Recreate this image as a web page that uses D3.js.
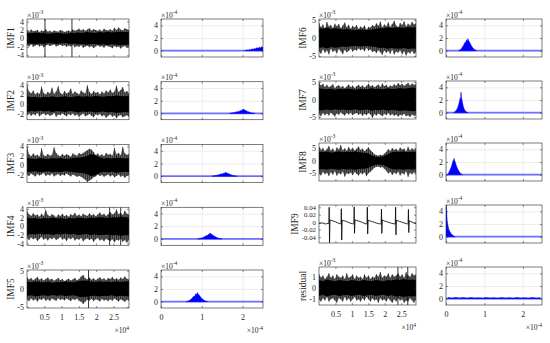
<!DOCTYPE html>
<html>
<head>
<meta charset="utf-8">
<script src="https://cdn.jsdelivr.net/npm/d3@7"></script>
<style>
body { margin: 0; background: #fff; }
text { font-family: "Liberation Serif", "Times New Roman", serif; fill: #262626; }
</style>
</head>
<body>
<svg id="fig" width="550" height="343"></svg>
<script>
// time axis in x10^4 samples, amplitudes in x10^-3 (IMF9 raw)
var xMax = 2.95;
var timeXTicks = [0.5, 1, 1.5, 2, 2.5];
var specXTicks = [0, 1, 2];
var specYTicks = [0, 2, 4];
var specXMax = 2.5;
var specYLim = [-1, 5];
var serif = "Liberation Serif, Times New Roman, serif";

// outer envelopes (spiky hairs) of the dense signals, read across the x axis
var imf1Hi = [1.9,1.6,2.1,1.7,1.8,2.0,1.5,1.9,1.7,2.2, 1.6,1.8,1.5,1.9,1.7,1.6,2.0,1.8,1.5,1.7, 1.9,1.6,2.1,1.8,2.0,2.3,1.9,2.2,1.8,2.1, 2.4,1.9,2.2,2.0,1.8,2.1,1.7,2.3,2.0,1.9, 2.2,1.8,2.5,2.0,2.6,2.1,1.9,2.4,2.2,2.0];
var imf1Lo = [-1.6,-1.9,-1.4,-2.0,-1.7,-1.5,-1.9,-1.6,-2.1,-1.7, -1.5,-1.8,-1.6,-1.4,-1.9,-1.7,-1.5,-1.8,-1.6,-2.0, -1.7,-1.9,-1.5,-2.1,-1.8,-2.0,-1.6,-2.2,-1.9,-1.7, -2.1,-1.8,-2.3,-1.9,-1.6,-2.0,-1.8,-2.2,-1.7,-1.9, -2.0,-2.3,-1.8,-2.1,-1.9,-2.4,-2.0,-1.8,-2.2,-2.0];
// half-width of the solid black core
var imf1Core = [1.3,1.2,1.4,1.2,1.3,1.1,1.2,1.3,1.2,1.1,1.3,1.2,1.4,1.3,1.5,1.4,1.3,1.5,1.4,1.6,1.4,1.5,1.6,1.5,1.5];
var imf1Spikes = [0.52, 1.3];

var imf2Hi = [3.8,2.6,2.2,2.8,2.0,2.4,2.1,3.6,2.3,2.0, 2.5,2.2,3.4,2.1,2.6,3.7,2.3,2.0,2.7,2.2, 2.4,3.2,2.1,2.6,2.3,2.0,2.8,2.4,2.2,3.9, 2.5,2.1,2.7,2.3,2.5,2.0,2.6,2.2,2.8,2.4, 3.0,2.3,2.6,3.8,2.5,2.9,3.5,2.4,2.7,2.2];
var imf2Lo = [-2.2,-1.9,-2.4,-2.0,-2.3,-1.8,-2.5,-2.1,-1.9,-2.3, -2.0,-2.4,-2.2,-1.8,-2.6,-2.1,-2.3,-1.9,-2.2,-2.5, -2.0,-2.3,-1.9,-2.4,-2.1,-2.6,-2.2,-1.9,-2.5,-2.3, -2.0,-2.4,-2.7,-2.1,-2.3,-2.0,-2.5,-2.2,-2.8,-2.4, -2.1,-2.6,-2.3,-2.9,-2.4,-2.2,-2.7,-2.5,-2.3,-2.6];
var imf2Core = [1.6,1.4,1.5,1.3,1.5,1.4,1.6,1.4,1.5,1.6,1.4,1.5,1.7,1.5,1.6,1.5,1.7,1.6,1.5,1.7,1.6,1.8,1.7,1.6,1.7];

var imf3Hi = [3.9,2.3,1.9,2.5,2.0,2.2,1.8,3.6,2.1,1.9, 2.4,2.0,2.2,3.8,2.6,2.1,1.9,2.4,2.0,2.3, 2.1,1.8,2.5,2.2,2.0,2.6,2.3,2.6,2.9,3.2, 3.5,3.3,2.8,2.1,2.5,2.0,2.3,1.9,2.6,2.2, 2.4,2.0,3.7,2.3,2.6,2.1,3.9,2.5,2.2,2.4];
var imf3Lo = [-2.0,-2.3,-1.8,-2.1,-2.4,-1.9,-2.2,-2.0,-1.7,-2.3, -2.0,-2.2,-1.8,-2.4,-2.1,-1.9,-2.3,-2.0,-2.2,-1.8, -2.1,-2.4,-2.0,-2.2,-2.5,-2.3,-2.5,-2.8,-3.1,-3.6, -3.3,-3.0,-2.6,-2.4,-2.0,-2.3,-2.1,-2.5,-2.2,-2.0, -2.4,-2.1,-2.6,-2.3,-2.0,-2.5,-2.2,-2.7,-2.3,-2.1];
var imf3Core = [1.5,1.4,1.3,1.5,1.4,1.3,1.5,1.4,1.5,1.3,1.4,1.5,1.6,1.7,1.9,2.3,2.2,1.7,1.4,1.5,1.4,1.6,1.5,1.4,1.5];

var imf4Hi = [3.5,2.8,2.4,3.0,2.5,2.7,2.2,2.9,2.4,3.8, 2.6,2.3,2.8,2.5,2.1,2.7,2.4,2.9,2.3,2.6, 2.2,2.8,2.5,3.1,2.4,2.7,2.3,2.9,2.6,2.4, 3.0,2.5,2.8,2.3,2.7,3.2,2.6,2.9,2.4,2.8, 3.3,2.7,3.0,3.9,2.8,3.1,2.6,3.6,2.9,2.7];
var imf4Lo = [-2.8,-3.2,-2.6,-3.0,-2.7,-3.4,-2.9,-2.5,-3.1,-2.8, -3.3,-2.7,-3.0,-2.6,-3.2,-2.9,-2.5,-3.1,-2.8,-3.4, -2.7,-3.0,-2.6,-3.3,-2.9,-3.1,-2.7,-3.5,-3.0,-2.8, -3.2,-2.9,-3.6,-3.0,-2.7,-3.3,-3.0,-3.5,-2.9,-3.2, -3.4,-3.0,-3.7,-3.1,-3.3,-2.9,-3.6,-3.2,-3.8,-3.1];
var imf4Core = [2.0,1.8,1.9,1.7,1.9,1.8,2.0,1.8,1.9,1.7,1.9,1.8,2.0,1.9,1.8,2.0,1.9,2.1,2.0,1.9,2.1,2.0,2.2,2.1,2.0];
var imf4Spikes = [2.39, 2.71];

var imf5Hi = [3.2,2.6,3.0,2.4,2.8,3.3,2.5,2.9,2.3,2.7, 3.1,2.5,2.8,2.2,2.6,3.0,2.4,2.7,2.1,2.5, 2.8,2.3,2.6,3.0,2.4,2.7,3.4,3.8,2.9,2.6, 3.1,2.5,2.9,2.4,2.8,3.2,2.6,2.9,2.4,3.0, 2.7,3.3,2.6,2.9,2.5,3.1,2.7,3.4,2.8,2.6];
var imf5Lo = [-3.0,-3.4,-2.7,-3.2,-2.9,-3.5,-2.8,-3.1,-2.6,-3.3, -2.9,-3.4,-2.7,-3.0,-3.3,-2.6,-3.1,-2.8,-3.2,-2.7, -3.0,-3.4,-2.8,-3.1,-2.7,-3.3,-3.6,-4.2,-3.5,-3.0, -3.2,-2.8,-3.4,-2.9,-3.1,-3.5,-2.8,-3.2,-3.0,-3.4, -2.9,-3.3,-2.7,-3.1,-3.5,-2.9,-3.2,-3.6,-3.0,-3.3];
var imf5Core = [2.0,1.8,2.1,1.9,1.8,2.0,1.7,1.9,1.8,2.0,1.9,1.8,2.1,2.3,2.2,2.0,1.9,2.1,1.9,2.0,1.8,2.1,1.9,2.0,2.1];
var imf5Spikes = [1.78];

var imf6Hi = [4.2,3.0,3.8,2.6,4.5,3.2,3.6,2.8,4.0,3.3, 3.9,2.7,3.5,4.3,3.0,3.7,2.6,3.4,2.9,3.6, 2.5,3.2,2.8,3.5,2.4,3.1,2.9,3.6,3.2,4.1, 3.4,4.6,3.0,3.8,3.3,4.4,3.1,3.9,4.8,3.5, 3.0,4.2,3.6,4.7,3.2,4.0,3.5,4.5,3.8,4.1];
var imf6Lo = [-3.8,-4.4,-3.2,-4.1,-3.5,-4.6,-3.0,-3.9,-3.4,-4.3, -3.1,-3.7,-4.5,-3.3,-4.0,-3.6,-3.0,-3.8,-3.3,-3.5, -2.9,-3.4,-3.1,-3.7,-2.8,-3.5,-3.2,-3.9,-3.6,-4.2, -3.4,-4.0,-4.7,-3.5,-4.1,-3.6,-4.4,-3.3,-4.6,-3.8, -4.1,-3.5,-4.5,-3.7,-4.9,-3.9,-4.3,-3.6,-4.4,-4.0];
var imf6Core = [2.8,2.6,2.9,2.5,2.7,2.6,2.4,2.5,2.3,2.2,2.4,2.3,2.2,2.4,2.5,2.8,2.7,3.0,2.8,2.9,3.0,2.8,3.1,2.9,3.0];

var imf7Hi = [4.8,4.0,4.5,3.6,4.2,3.5,3.9,4.4,3.3,3.8, 4.1,3.4,3.9,3.2,3.7,4.3,3.5,4.0,3.3,3.8, 4.2,3.6,4.0,3.4,3.9,4.5,3.7,4.1,3.5,3.9, 4.3,3.6,4.6,3.8,4.2,3.5,4.0,3.7,4.4,3.9, 4.7,4.1,4.5,3.9,4.3,4.8,4.0,4.6,4.2,4.4];
var imf7Lo = [-4.2,-4.8,-3.9,-4.5,-4.0,-4.6,-3.8,-4.3,-4.9,-4.0, -4.4,-3.7,-4.2,-4.6,-3.9,-4.3,-3.8,-4.5,-4.1,-3.9, -4.4,-4.0,-4.7,-4.1,-4.5,-3.9,-4.3,-5.3,-4.2,-4.6, -4.0,-4.4,-4.8,-4.1,-4.5,-3.9,-4.6,-4.2,-4.7,-4.3, -4.9,-4.4,-4.6,-4.1,-4.8,-4.5,-5.0,-4.3,-4.7,-4.5];
var imf7Core = [3.2,3.0,2.9,3.1,2.8,3.0,2.9,3.1,3.0,2.8,3.1,3.0,2.9,3.2,3.0,3.1,2.9,3.2,3.0,3.1,3.3,3.1,3.2,3.4,3.3];

var imf8Hi = [5.5,4.2,5.0,3.8,4.6,5.8,4.0,4.8,3.6,5.2, 4.4,6.2,4.1,4.9,3.9,5.4,4.3,5.1,4.0,4.7, 5.6,4.2,4.8,3.7,4.5,5.3,4.1,3.4,2.6,2.2, 2.0,2.4,2.1,2.8,3.5,4.6,3.8,5.0,4.2,4.7, 3.9,5.2,4.4,4.8,3.7,5.5,4.1,4.9,4.3,4.6];
var imf8Lo = [-5.0,-5.8,-4.4,-5.3,-4.7,-6.0,-4.5,-5.5,-4.2,-5.9, -4.8,-5.4,-4.3,-6.3,-4.9,-5.2,-4.6,-5.7,-4.4,-5.1, -5.8,-4.7,-5.3,-4.5,-6.1,-4.9,-4.3,-3.6,-2.8,-2.4, -2.3,-2.7,-2.5,-3.2,-4.0,-5.0,-4.4,-5.6,-4.6,-5.2, -4.3,-5.8,-4.8,-5.4,-4.2,-6.4,-4.7,-5.3,-4.5,-5.0];
var imf8Core = [3.5,3.3,3.6,3.2,3.4,3.6,3.3,3.5,3.4,3.6,3.3,3.2,3.0,2.2,1.6,1.5,1.8,2.6,3.3,3.5,3.4,3.6,3.3,3.5,3.4];

// IMF9 is a thin line with periodic spikes: sample points (x10^4, value)
var imf9X = [0,0.1,0.2,0.28, 0.30,0.31,0.32,0.335,0.4,0.5,0.6,0.66, 0.67,0.68,0.69,0.705,0.8,0.9,1.0,1.05,
  1.06,1.07,1.08,1.095,1.2,1.3,1.4,1.45, 1.46,1.47,1.48,1.495,1.6,1.7,1.8,1.88, 1.89,1.90,1.91,1.925,2.0,2.1,2.2,2.31,
  2.32,2.33,2.34,2.355,2.45,2.55,2.65,2.70, 2.71,2.72,2.73,2.745,2.8,2.9,2.95];
var imf9Y = [-0.004,-0.002,-0.005,-0.003, -0.004,0.040,-0.055,0.006,0.004,0.001,-0.003,-0.005, -0.004,0.036,-0.048,0.005,0.003,-0.001,-0.004,-0.005,
  -0.004,0.041,-0.030,0.006,0.003,0.000,-0.004,-0.005, -0.004,0.040,-0.032,0.005,0.002,-0.001,-0.004,-0.005, -0.004,0.035,-0.030,0.006,0.003,0.000,-0.003,-0.005,
  -0.004,0.040,-0.034,0.005,0.002,-0.001,-0.004,-0.005, -0.004,0.034,-0.028,0.004,0.001,-0.003,-0.004];

var resHi = [1.2,0.9,1.1,0.8,1.0,1.3,0.9,1.1,0.8,1.2, 1.0,0.9,1.1,0.8,1.3,0.9,1.0,1.2,0.8,1.1, 0.9,1.0,0.8,1.2,0.9,1.1,0.8,1.0,0.9,1.2, 1.0,1.4,0.9,1.1,1.0,1.3,0.9,1.2,1.0,1.1, 1.3,1.0,1.2,0.9,1.4,1.1,1.0,1.3,1.1,1.2];
var resLo = [-1.0,-1.2,-0.9,-1.1,-0.8,-1.2,-1.0,-0.9,-1.1,-1.3, -0.9,-1.0,-1.2,-0.8,-1.1,-0.9,-1.2,-1.0,-0.8,-1.1, -1.0,-1.2,-0.9,-1.1,-0.8,-1.0,-1.2,-0.9,-1.1,-1.0, -1.3,-0.9,-1.1,-1.0,-1.2,-0.9,-1.1,-1.3,-1.0,-1.2, -0.9,-1.1,-1.0,-1.3,-1.1,-1.2,-0.9,-1.1,-1.3,-1.0];
var resCore = [0.7,0.6,0.75,0.65,0.6,0.7,0.65,0.6,0.7,0.65,0.6,0.7,0.65,0.6,0.7,0.65,0.6,0.7,0.65,0.75,0.7,0.8,0.7,0.75,0.7];
var resSpikes = [2.4, 2.7];

// spectra: frequency (x10^-4) and amplitude (x10^-4) of each peak
var spec1F = [2.05,2.08,2.11,2.14,2.17,2.2,2.23,2.26,2.29,2.32,2.35,2.38,2.41,2.44,2.47,2.5];
var spec1A = [0,0.05,0.1,0.08,0.18,0.15,0.28,0.22,0.35,0.3,0.48,0.38,0.55,0.45,0.62,0.5];
var spec2F = [1.68,1.72,1.76,1.8,1.84,1.88,1.91,1.94,1.97,1.99,2.01,2.03,2.06,2.09,2.12,2.16,2.2,2.25,2.3];
var spec2A = [0,0.05,0.1,0.15,0.22,0.3,0.28,0.45,0.4,0.62,0.55,0.68,0.5,0.42,0.32,0.22,0.12,0.05,0];
var spec3F = [1.25,1.3,1.35,1.4,1.44,1.48,1.51,1.54,1.56,1.58,1.6,1.63,1.66,1.7,1.74,1.79,1.86];
var spec3A = [0,0.06,0.12,0.2,0.28,0.38,0.35,0.5,0.45,0.62,0.52,0.48,0.38,0.28,0.16,0.07,0];
var spec4F = [0.9,0.95,1.0,1.04,1.08,1.11,1.14,1.16,1.18,1.2,1.22,1.25,1.28,1.32,1.36,1.41,1.46,1.5];
var spec4A = [0,0.06,0.15,0.25,0.4,0.55,0.5,0.75,0.68,0.95,0.8,0.7,0.55,0.4,0.25,0.12,0.04,0];
var spec5F = [0.62,0.67,0.71,0.75,0.78,0.81,0.83,0.85,0.87,0.89,0.91,0.94,0.97,1.0,1.04,1.09,1.14];
var spec5A = [0,0.1,0.25,0.45,0.7,0.9,0.85,1.25,1.1,1.45,1.2,1.0,0.75,0.5,0.3,0.1,0];
var spec6F = [0.33,0.37,0.41,0.44,0.47,0.49,0.51,0.53,0.55,0.57,0.59,0.62,0.65,0.69,0.74,0.8];
var spec6A = [0,0.15,0.4,0.7,1.0,1.3,1.2,1.7,1.5,1.9,1.6,1.3,0.9,0.5,0.2,0];
var spec7F = [0.2,0.24,0.28,0.31,0.33,0.35,0.37,0.38,0.39,0.40,0.41,0.43,0.45,0.48,0.52,0.57];
var spec7A = [0,0.2,0.5,0.9,1.3,1.8,2.3,2.0,3.25,2.6,2.2,1.6,1.0,0.5,0.15,0];
var spec8F = [0.04,0.07,0.1,0.13,0.15,0.17,0.19,0.2,0.21,0.22,0.24,0.26,0.29,0.33,0.38,0.43];
var spec8A = [0,0.3,0.7,1.1,1.5,1.9,2.3,2.1,2.6,2.3,2.0,1.6,1.1,0.6,0.2,0];
var spec9F = [0,0.01,0.02,0.03,0.05,0.07,0.1,0.13,0.16,0.2,0.24];
var spec9A = [5,4.8,3.6,2.6,1.8,1.2,0.8,0.5,0.3,0.1,0];
var spec10F = [0.05,0.15,0.25,0.35,0.45,0.55,0.65,0.75,0.85,0.95,1.05,1.15,1.25,1.35,1.45,1.55,1.65,1.75,1.85,1.95,2.05,2.15,2.25,2.35,2.45];
var spec10A = [0.18,0.1,0.2,0.12,0.17,0.09,0.19,0.11,0.16,0.1,0.18,0.12,0.15,0.09,0.17,0.11,0.16,0.1,0.18,0.12,0.15,0.1,0.17,0.11,0.14];

var panels = [
  {name: "IMF1", hi: imf1Hi, lo: imf1Lo, core: imf1Core, spikes: imf1Spikes, lim: [-4.4, 4.6], ticks: [-4, -2, 0, 2, 4], exp: "-3", sf: spec1F, sa: spec1A},
  {name: "IMF2", hi: imf2Hi, lo: imf2Lo, core: imf2Core, lim: [-3.2, 4.6], ticks: [-2, 0, 2, 4], exp: "-3", sf: spec2F, sa: spec2A},
  {name: "IMF3", hi: imf3Hi, lo: imf3Lo, core: imf3Core, lim: [-3.7, 4.4], ticks: [-2, 0, 2, 4], exp: "-3", sf: spec3F, sa: spec3A},
  {name: "IMF4", hi: imf4Hi, lo: imf4Lo, core: imf4Core, spikes: imf4Spikes, lim: [-4.4, 4.4], ticks: [-4, -2, 0, 2, 4], exp: "-3", sf: spec4F, sa: spec4A},
  {name: "IMF5", hi: imf5Hi, lo: imf5Lo, core: imf5Core, spikes: imf5Spikes, lim: [-5.3, 5.2], ticks: [-5, 0, 5], exp: "-3", sf: spec5F, sa: spec5A},
  {name: "IMF6", hi: imf6Hi, lo: imf6Lo, core: imf6Core, lim: [-5.3, 5.3], ticks: [-5, 0, 5], exp: "-3", sf: spec6F, sa: spec6A},
  {name: "IMF7", hi: imf7Hi, lo: imf7Lo, core: imf7Core, lim: [-5.6, 5.3], ticks: [-5, 0, 5], exp: "-3", sf: spec7F, sa: spec7A},
  {name: "IMF8", hi: imf8Hi, lo: imf8Lo, core: imf8Core, lim: [-8, 7], ticks: [-5, 0, 5], exp: "-3", sf: spec8F, sa: spec8A},
  {name: "IMF9", px: imf9X, py: imf9Y, lim: [-0.056, 0.046], ticks: [-0.04, -0.02, 0, 0.02, 0.04], exp: null, small: true, sf: spec9F, sa: spec9A},
  {name: "residual", hi: resHi, lo: resLo, core: resCore, spikes: resSpikes, lim: [-1.5, 1.85], ticks: [-1, 0, 1], exp: "-3", sf: spec10F, sa: spec10A}
];

var svg = d3.select("#fig");
var boxH = 38;
var cols = [
  {tx: 27, tw: 102, sx: 161, sw: 102, top: 19, step: 62.75},
  {tx: 319, tw: 97, sx: 446, sw: 96, top: 19, step: 62}
];

function expLabel(x, y, sup, anchor) {
  var t = svg.append("text").attr("x", x).attr("y", y).attr("font-family", serif)
    .attr("font-size", 7.5).attr("text-anchor", anchor || "start");
  t.append("tspan").text("\u00d710");
  t.append("tspan").attr("font-size", 5.5).attr("dy", -3.5).text(sup);
}

function styleAxis(a, fs) {
  a.select(".domain").remove();
  a.attr("font-family", serif).attr("font-size", fs || 8).attr("color", "#262626");
  a.selectAll("line").attr("stroke-width", 0.5);
  return a;
}

function frame(bx, by, bw, bh) {
  svg.append("rect").attr("x", bx).attr("y", by).attr("width", bw).attr("height", bh)
    .attr("fill", "none").attr("stroke", "#262626").attr("stroke-width", 0.6);
}

function drawTime(p, bx, by, bw, bh, bottom) {
  var x = d3.scaleLinear().domain([0, xMax]).range([bx, bx + bw]);
  var y = d3.scaleLinear().domain(p.lim).range([by + bh, by]);
  var id = "clip" + p.name;
  svg.append("clipPath").attr("id", id).append("rect")
    .attr("x", bx).attr("y", by).attr("width", bw).attr("height", bh);
  var g = svg.append("g").attr("clip-path", "url(#" + id + ")");

  if (p.hi) {
    var n = Math.min(p.hi.length, p.lo.length);
    var step = xMax / (n - 1);
    var outer = d3.area()
      .x(function(d, i) { return x(i * step); })
      .y0(function(d, i) { return y(p.lo[i]); })
      .y1(function(d) { return y(d); });
    g.append("path").datum(p.hi.slice(0, n)).attr("d", outer)
      .attr("fill", "#000").attr("fill-opacity", 0.6);
    // hairs
    g.selectAll("line.hair").data(p.hi.slice(0, n)).enter().append("line")
      .attr("class", "hair")
      .attr("x1", function(d, i) { return x(i * step); })
      .attr("x2", function(d, i) { return x(i * step); })
      .attr("y1", function(d) { return y(d); })
      .attr("y2", function(d, i) { return y(p.lo[i]); })
      .attr("stroke", "#000").attr("stroke-width", 0.6);
    var cstep = xMax / (p.core.length - 1);
    var core = d3.area()
      .x(function(d, i) { return x(i * cstep); })
      .y0(function(d) { return y(-d); })
      .y1(function(d) { return y(d); });
    g.append("path").datum(p.core).attr("d", core).attr("fill", "#000");
  }
  if (p.px) {
    var line = d3.line()
      .x(function(d) { return x(d); })
      .y(function(d, i) { return y(p.py[i]); });
    g.append("path").datum(p.px).attr("d", line)
      .attr("fill", "none").attr("stroke", "#000").attr("stroke-width", 0.8);
  }
  g.selectAll("line.spike").data(p.spikes || []).enter().append("line")
    .attr("class", "spike")
    .attr("x1", function(d) { return x(d); }).attr("x2", function(d) { return x(d); })
    .attr("y1", y(p.lim[0])).attr("y2", y(p.lim[1]))
    .attr("stroke", "#000").attr("stroke-width", 0.8);

  var fmt = function(d) { return String(d); };
  styleAxis(svg.append("g").attr("transform", "translate(0," + (by + bh) + ")")
    .call(d3.axisBottom(x).tickValues(timeXTicks).tickSize(-2).tickPadding(6).tickFormat(bottom ? fmt : "")));
  styleAxis(svg.append("g").attr("transform", "translate(0," + by + ")")
    .call(d3.axisTop(x).tickValues(timeXTicks).tickSize(-2).tickFormat("")));
  var ya = styleAxis(svg.append("g").attr("transform", "translate(" + bx + ",0)")
    .call(d3.axisLeft(y).tickValues(p.ticks).tickSize(-2).tickPadding(3).tickFormat(fmt)), p.small ? 6.8 : 8);
  styleAxis(svg.append("g").attr("transform", "translate(" + (bx + bw) + ",0)")
    .call(d3.axisRight(y).tickValues(p.ticks).tickSize(-2).tickFormat("")));
  frame(bx, by, bw, bh);

  var maxW = d3.max(ya.selectAll("text").nodes(), function(t) { return t.getBBox().width; });
  var cx = bx - 3 - maxW - 7;
  svg.append("text").attr("transform", "translate(" + cx + "," + (by + bh / 2) + ") rotate(-90)")
    .attr("font-family", serif)
    .attr("text-anchor", "middle").attr("dy", "0.35em").attr("font-size", 9.5).text(p.name);

  if (p.exp) expLabel(bx, by - 1.5, p.exp);
  if (bottom) expLabel(bx + bw, by + bh + 25, "4", "end");
}

function drawSpec(p, bx, by, bw, bh, bottom) {
  var x = d3.scaleLinear().domain([0, specXMax]).range([bx, bx + bw]);
  var y = d3.scaleLinear().domain(specYLim).range([by + bh, by]);

  // grid
  svg.append("g").attr("transform", "translate(0," + (by + bh) + ")")
    .call(d3.axisBottom(x).tickValues(specXTicks).tickSize(-bh).tickFormat(""))
    .call(function(a) { a.select(".domain").remove(); a.selectAll("line").attr("stroke", "#e3e3e3").attr("stroke-width", 0.6); });
  svg.append("g").attr("transform", "translate(" + bx + ",0)")
    .call(d3.axisLeft(y).tickValues(specYTicks).tickSize(-bw).tickFormat(""))
    .call(function(a) { a.select(".domain").remove(); a.selectAll("line").attr("stroke", "#e3e3e3").attr("stroke-width", 0.6); });

  var id = "sclip" + p.name;
  svg.append("clipPath").attr("id", id).append("rect")
    .attr("x", bx).attr("y", by).attr("width", bw).attr("height", bh);
  var g = svg.append("g").attr("clip-path", "url(#" + id + ")");

  g.append("path").datum([0, specXMax])
    .attr("d", d3.line().x(function(d) { return x(d); }).y(y(0)))
    .attr("stroke", "#0000ff").attr("stroke-opacity", 0.55).attr("stroke-width", 1.6).attr("fill", "none");
  var area = d3.area()
    .x(function(d) { return x(d); })
    .y0(y(0))
    .y1(function(d, i) { return y(p.sa[i]); });
  g.append("path").datum(p.sf).attr("d", area)
    .attr("fill", "#0000ff").attr("stroke", "#0000ff").attr("stroke-width", 0.5);

  var fmt = function(d) { return String(d); };
  styleAxis(svg.append("g").attr("transform", "translate(0," + (by + bh) + ")")
    .call(d3.axisBottom(x).tickValues(specXTicks).tickSize(-2).tickPadding(6).tickFormat(bottom ? fmt : "")));
  styleAxis(svg.append("g").attr("transform", "translate(0," + by + ")")
    .call(d3.axisTop(x).tickValues(specXTicks).tickSize(-2).tickFormat("")));
  styleAxis(svg.append("g").attr("transform", "translate(" + bx + ",0)")
    .call(d3.axisLeft(y).tickValues(specYTicks).tickSize(-2).tickPadding(3).tickFormat(fmt)));
  styleAxis(svg.append("g").attr("transform", "translate(" + (bx + bw) + ",0)")
    .call(d3.axisRight(y).tickValues(specYTicks).tickSize(-2).tickFormat("")));
  frame(bx, by, bw, bh);

  expLabel(bx, by - 1.5, "-4");
  if (bottom) expLabel(bx + bw, by + bh + 25, "-4", "end");
}

panels.forEach(function(p, k) {
  var c = cols[Math.floor(k / 5)];
  var r = k % 5;
  var by = c.top + r * c.step;
  drawTime(p, c.tx, by, c.tw, boxH, r === 4);
  drawSpec(p, c.sx, by, c.sw, boxH, r === 4);
});
</script>
</body>
</html>
